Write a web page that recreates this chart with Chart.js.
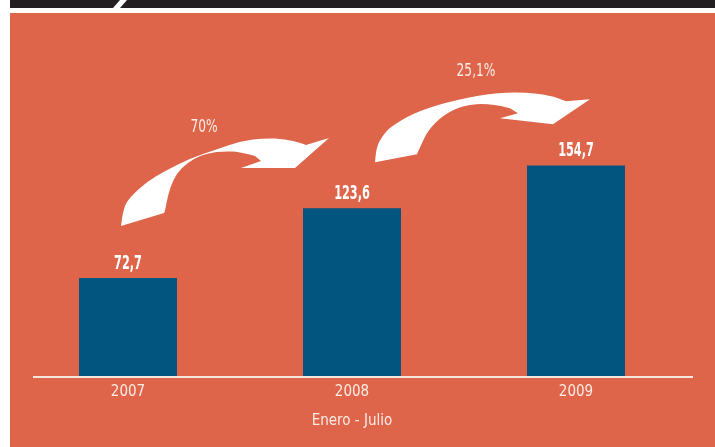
<!DOCTYPE html>
<html>
<head>
<meta charset="utf-8">
<script src="https://cdn.jsdelivr.net/npm/chart.js@4.4.1/dist/chart.umd.min.js"></script>
<style>
  html, body { margin: 0; padding: 0; background: #ffffff; }
  #wrap { width: 715px; height: 447px; position: relative; }
</style>
</head>
<body>
<div id="wrap"><canvas id="chart"></canvas></div>
<script>
// data
var years = ['2007', '2008', '2009'];
var values = [72.7, 123.6, 154.7];
var growthLabels = ['70%', '25,1%'];
var axisTitle = 'Enero - Julio';

var FONT = '"Liberation Sans Narrow", "DejaVu Sans Condensed", sans-serif';
var ORANGE = '#de654a';
var BLUE = '#01557e';
var TEXT = '#fbece6';

// arrow outlines, offsets from the top centre of the bar where the arrow starts
var arrowShapes = [
  {
    outer: [[-7,-52],[-5,-70],[3,-82],[20,-97],[37,-107],[63,-120],[87,-128],[113,-137],[137,-140],[157,-139],[173,-135],[178,-133]],
    head: [[201,-140],[167,-110],[113,-110],[133,-117]],
    inner: [[127,-122],[113,-126],[97,-127],[80,-125],[67,-120],[53,-110],[45,-98],[40,-83],[37,-67],[36,-65]],
    label: [76,-151]
  },
  {
    outer: [[23,-46],[24,-61],[31,-73],[38,-81],[61,-95],[94,-106],[138,-115],[171,-116],[198,-113],[214,-107]],
    head: [[238,-109],[201,-84],[148,-90],[166,-95]],
    inner: [[158,-100],[138,-105],[111,-103],[91,-93],[76,-78],[68,-61],[65,-54]],
    label: [124,-137]
  }
];

function smoothTo(ctx, pts, ox, oy) {
  // quadratic curve through midpoints
  for (var i = 1; i < pts.length - 1; i++) {
    var mx = (pts[i][0] + pts[i + 1][0]) / 2, my = (pts[i][1] + pts[i + 1][1]) / 2;
    ctx.quadraticCurveTo(ox + pts[i][0], oy + pts[i][1], ox + mx, oy + my);
  }
  var last = pts[pts.length - 1];
  ctx.lineTo(ox + last[0], oy + last[1]);
}

// narrow text, the original face is very condensed
function narrowText(ctx, txt, x, y, squeeze) {
  ctx.save();
  ctx.translate(x, y);
  ctx.scale(squeeze, 1);
  ctx.fillText(txt, 0, 0);
  ctx.restore();
}

var backdrop = {
  id: 'backdrop',
  beforeDraw: function(chart) {
    var ctx = chart.ctx;
    ctx.save();
    ctx.fillStyle = '#ffffff';
    ctx.fillRect(0, 0, chart.width, chart.height);
    // dark band on top with a white slash
    ctx.fillStyle = '#231f20';
    ctx.fillRect(10, 0, chart.width - 10, 8);
    ctx.fillStyle = '#ffffff';
    ctx.beginPath();
    ctx.moveTo(120, 0); ctx.lineTo(127, 0); ctx.lineTo(120, 8); ctx.lineTo(113, 8);
    ctx.closePath(); ctx.fill();
    // orange panel
    ctx.fillStyle = ORANGE;
    ctx.fillRect(10, 13, chart.width - 10, chart.height - 13);
    ctx.restore();
  },
  afterDatasetsDraw: function(chart) {
    var ctx = chart.ctx;
    var x = chart.scales.x, y = chart.scales.y;
    ctx.save();
    // base line
    ctx.strokeStyle = '#f6e6e0';
    ctx.lineWidth = 2;
    ctx.beginPath();
    ctx.moveTo(33, chart.chartArea.bottom - 1);
    ctx.lineTo(693, chart.chartArea.bottom - 1);
    ctx.stroke();

    // value labels
    ctx.fillStyle = '#ffffff';
    ctx.textAlign = 'center';
    ctx.textBaseline = 'alphabetic';
    ctx.font = '600 19px ' + FONT;
    values.forEach(function(v, i) {
      narrowText(ctx, v.toFixed(1).replace('.', ','), x.getPixelForValue(i), y.getPixelForValue(v) - 9, 0.66);
    });

    // growth arrows
    arrowShapes.forEach(function(a, i) {
      var ox = x.getPixelForValue(i), oy = y.getPixelForValue(values[i]);
      ctx.beginPath();
      ctx.moveTo(ox + a.outer[0][0], oy + a.outer[0][1]);
      smoothTo(ctx, a.outer, ox, oy);
      a.head.forEach(function(p) { ctx.lineTo(ox + p[0], oy + p[1]); });
      ctx.lineTo(ox + a.inner[0][0], oy + a.inner[0][1]);
      smoothTo(ctx, a.inner, ox, oy);
      ctx.closePath();
      ctx.fillStyle = '#ffffff';
      ctx.fill();

      ctx.fillStyle = TEXT;
      ctx.font = '17px ' + FONT;
      ctx.textBaseline = 'middle';
      narrowText(ctx, growthLabels[i], ox + a.label[0], oy + a.label[1], 0.8);
    });
    ctx.restore();
  }
};

new Chart(document.getElementById('chart'), {
  type: 'bar',
  data: {
    labels: years,
    datasets: [{
      data: values,
      backgroundColor: BLUE,
      borderWidth: 0,
      categoryPercentage: 1,
      barPercentage: 0.4375
    }]
  },
  options: {
    responsive: true,
    maintainAspectRatio: false,
    animation: false,
    layout: { padding: { top: 34.5, left: 16, right: 27, bottom: 0 } },
    plugins: { legend: { display: false }, tooltip: { enabled: false } },
    scales: {
      y: { display: false, min: 0, max: 250 },
      x: {
        grid: { display: false, drawTicks: false },
        border: { display: false },
        ticks: { color: TEXT, font: { family: FONT, size: 15 }, padding: 5 },
        title: {
          display: true,
          text: axisTitle,
          color: TEXT,
          font: { family: FONT, size: 15 },
          padding: { top: 6.5, bottom: 16.5 }
        }
      }
    }
  },
  plugins: [backdrop]
});
</script>
</body>
</html>
